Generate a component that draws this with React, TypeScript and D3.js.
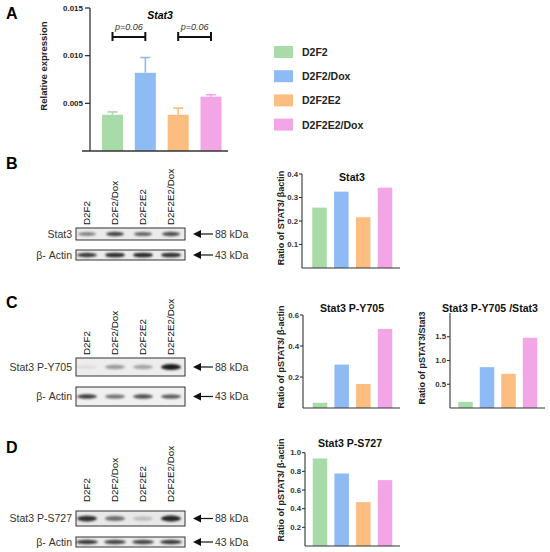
import React from 'react';
import * as d3 from 'd3';

const categories = ['D2F2', 'D2F2/Dox', 'D2F2E2', 'D2F2E2/Dox'];
const colors = ['#a8dba8', '#8fbbf4', '#fcbd80', '#f3a6e6'];

const exprMean = [0.0038, 0.0082, 0.0038, 0.0057];
const exprErr = [0.0003, 0.0016, 0.0007, 0.0002];
const exprTicks = [0.005, 0.010, 0.015];
const pBrackets = [
  { from: 0, to: 1, label: 'p=0.06' },
  { from: 2, to: 3, label: 'p=0.06' },
];

const stat3Ratio = [0.257, 0.325, 0.216, 0.342];
const stat3Ticks = [0.1, 0.2, 0.3, 0.4];
const y705Ratio = [0.034, 0.28, 0.155, 0.51];
const y705Ticks = [0.2, 0.4, 0.6];
const y705Stat3Ratio = [0.13, 0.86, 0.72, 1.48];
const y705Stat3Ticks = [0.5, 1.0, 1.5];
const s727Ratio = [0.938, 0.777, 0.47, 0.706];
const s727Ticks = [0.2, 0.4, 0.6, 0.8, 1.0];

// band intensities on the blots (0..1)
const blotStat3 = [0.5, 0.8, 0.65, 0.75];
const blotActinB = [0.85, 0.92, 0.95, 0.9];
const blotY705 = [0.08, 0.4, 0.35, 1.0];
const blotActinC = [0.85, 0.6, 0.75, 0.72];
const blotS727 = [0.9, 0.6, 0.22, 0.95];
const blotActinD = [0.85, 0.8, 0.8, 0.85];

const FONT = 'Liberation Sans, Arial, Helvetica, sans-serif';
const AXIS = '#333';

const lanes = d3.scalePoint<string>().domain(categories).range([87, 171]);

function PanelA() {
  const y = d3.scaleLinear().domain([0, 0.015]).range([151, 8]);
  const x = d3.scalePoint<string>().domain(categories).range([112.5, 211]);
  const bw = 21;
  return (
    <g fontFamily={FONT}>
      <text x={6} y={19} fontSize={16} fontWeight="bold">A</text>
      <text x={160} y={19} fontSize={10.5} fontWeight="bold" fontStyle="italic" textAnchor="middle">Stat3</text>
      {categories.map((c, i) => (
        <g key={c}>
          <rect x={x(c)! - bw / 2} y={y(exprMean[i])} width={bw} height={y(0) - y(exprMean[i])} fill={colors[i]} />
          <line x1={x(c)!} x2={x(c)!} y1={y(exprMean[i])} y2={y(exprMean[i] + exprErr[i])} stroke={colors[i]} strokeWidth={1.6} />
          <line x1={x(c)! - 5} x2={x(c)! + 5} y1={y(exprMean[i] + exprErr[i])} y2={y(exprMean[i] + exprErr[i])} stroke={colors[i]} strokeWidth={1.6} />
        </g>
      ))}
      <line x1={90} x2={90} y1={y(0.015)} y2={y(0)} stroke={AXIS} strokeWidth={1.3} />
      <line x1={82} x2={228} y1={y(0)} y2={y(0)} stroke={AXIS} strokeWidth={1.3} />
      {exprTicks.map(t => (
        <g key={t}>
          <line x1={85} x2={90} y1={y(t)} y2={y(t)} stroke={AXIS} strokeWidth={1.3} />
          <text x={83} y={y(t) + 2.8} fontSize={8} fontWeight="bold" textAnchor="end" fill="#222">{t.toFixed(3)}</text>
        </g>
      ))}
      <text transform="translate(47,66) rotate(-90)" fontSize={9.5} fontWeight="bold" textAnchor="middle" fill="#222">Relative expression</text>
      {pBrackets.map((b, i) => {
        const x1 = x(categories[b.from])!;
        const x2 = x(categories[b.to])!;
        return (
          <g key={i}>
            <line x1={x1} x2={x2} y1={37} y2={37} stroke="#111" strokeWidth={2} />
            <line x1={x1} x2={x1} y1={32} y2={41} stroke="#111" strokeWidth={2} />
            <line x1={x2} x2={x2} y1={32} y2={41} stroke="#111" strokeWidth={2} />
            <text x={(x1 + x2) / 2} y={30} fontSize={9} fontStyle="italic" textAnchor="middle" fill="#333">{b.label}</text>
          </g>
        );
      })}
      {categories.map((c, i) => (
        <g key={'lg' + c}>
          <rect x={274} y={46 + i * 24.2} width={19} height={12} fill={colors[i]} />
          <text x={302} y={56 + i * 24.2} fontSize={10.5} fontWeight="bold" fill="#222">{c}</text>
        </g>
      ))}
    </g>
  );
}

type SmallProps = {
  axisX: number; base: number; max: number; top: number; ticks: number[]; fmt: (v: number) => string;
  values: number[]; centers: [number, number]; xEnd: number; title: string; titleX: number; titleY: number;
  ylabel: string; ylabelX: number; ylabelY: number;
};

function SmallBars(p: SmallProps) {
  const y = d3.scaleLinear().domain([0, p.max]).range([p.base, p.top]);
  const x = d3.scalePoint<string>().domain(categories).range(p.centers);
  const bw = 14.5;
  return (
    <g fontFamily={FONT}>
      {categories.map((c, i) => (
        <rect key={c} x={x(c)! - bw / 2} y={y(p.values[i])} width={bw} height={p.base - y(p.values[i])} fill={colors[i]} />
      ))}
      <line x1={p.axisX} x2={p.axisX} y1={p.top} y2={p.base} stroke={AXIS} strokeWidth={1.1} />
      <line x1={p.axisX} x2={p.xEnd} y1={p.base} y2={p.base} stroke={AXIS} strokeWidth={1.1} />
      {p.ticks.map(t => (
        <g key={t}>
          <line x1={p.axisX - 3} x2={p.axisX} y1={y(t)} y2={y(t)} stroke={AXIS} strokeWidth={1.1} />
          <text x={p.axisX - 4} y={y(t) + 2.7} fontSize={7.8} fontWeight="bold" textAnchor="end" fill="#333">{p.fmt(t)}</text>
        </g>
      ))}
      <text x={p.titleX} y={p.titleY} fontSize={10.6} fontWeight="bold" textAnchor="middle" fill="#111">{p.title}</text>
      <text transform={`translate(${p.ylabelX},${p.ylabelY}) rotate(-90)`} fontSize={9} fontWeight="bold" textAnchor="middle" fill="#222">{p.ylabel}</text>
    </g>
  );
}

type BlotProps = { y: number; h: number; vals: number[]; bandH: number; bandW: number; bg: string; label: string; kda: string };

function Blot(p: BlotProps) {
  const cy = p.y + p.h / 2;
  return (
    <g fontFamily={FONT}>
      <rect x={76} y={p.y} width={109} height={p.h} fill={p.bg} stroke="#333" strokeWidth={1} />
      {categories.map((c, i) => (
        <ellipse key={c} cx={lanes(c)!} cy={cy} rx={p.bandW / 2} ry={p.bandH / 2 * (0.7 + 0.5 * p.vals[i])}
          fill="#1a1a1a" opacity={p.vals[i]} filter="url(#blur)" />
      ))}
      <text x={72} y={cy + 3.6} fontSize={10.5} textAnchor="end" fill="#333">{p.label}</text>
      <path d={`M193,${cy} L201,${cy - 4} L201,${cy + 4} Z`} fill="#111" />
      <line x1={199} x2={213} y1={cy} y2={cy} stroke="#111" strokeWidth={1.2} />
      <text x={215} y={cy + 3.6} fontSize={10.5} fill="#333">{p.kda}</text>
    </g>
  );
}

function LaneLabels({ bottom }: { bottom: number }) {
  return (
    <g fontFamily={FONT}>
      {categories.map(c => (
        <text key={c} transform={`translate(${lanes(c)! + 3.4},${bottom}) rotate(-90)`} fontSize={9.8} fill="#111">{c}</text>
      ))}
    </g>
  );
}

export default function App() {
  const f1 = (v: number) => v.toFixed(1);
  return (
    <svg width={550} height={552} style={{ position: 'absolute', left: 0, top: 0, background: '#fff' }}>
      <defs>
        <filter id="blur" x="-50%" y="-100%" width="200%" height="300%">
          <feGaussianBlur stdDeviation="1.2" />
        </filter>
      </defs>
      <rect width={550} height={552} fill="#fff" />
      <PanelA />

      {/* Panel B */}
      <text x={6} y={169} fontSize={16} fontWeight="bold" fontFamily={FONT}>B</text>
      <LaneLabels bottom={225} />
      <Blot y={228} h={12} vals={blotStat3} bandH={4} bandW={18} bg="#ebebeb" label="Stat3" kda="88 kDa" />
      <Blot y={250} h={10} vals={blotActinB} bandH={4} bandW={20} bg="#ebebeb" label="β- Actin" kda="43 kDa" />
      <SmallBars axisX={302} base={268} max={0.4} top={174} ticks={stat3Ticks} fmt={f1} values={stat3Ratio}
        centers={[319.5, 385]} xEnd={400} title="Stat3" titleX={352} titleY={181}
        ylabel="Ratio of STAT3/ βactin" ylabelX={284} ylabelY={218} />

      {/* Panel C */}
      <text x={6} y={308} fontSize={16} fontWeight="bold" fontFamily={FONT}>C</text>
      <LaneLabels bottom={355} />
      <Blot y={358} h={18} vals={blotY705} bandH={5} bandW={20} bg="#ededed" label="Stat3 P-Y705" kda="88 kDa" />
      <Blot y={387} h={19} vals={blotActinC} bandH={4} bandW={20} bg="#f0f0f0" label="β- Actin" kda="43 kDa" />
      <SmallBars axisX={303} base={408} max={0.6} top={315} ticks={y705Ticks} fmt={f1} values={y705Ratio}
        centers={[320, 385]} xEnd={400} title="Stat3 P-Y705" titleX={352} titleY={312}
        ylabel="Ratio of pSTAT3/ β-actin" ylabelX={284} ylabelY={357} />
      <SmallBars axisX={450} base={408} max={2.0} top={313} ticks={y705Stat3Ticks} fmt={f1} values={y705Stat3Ratio}
        centers={[465.5, 530]} xEnd={545} title="Stat3 P-Y705 /Stat3" titleX={490} titleY={312}
        ylabel="Ratio of pSTAT3/Stat3" ylabelX={425} ylabelY={358} />

      {/* Panel D */}
      <text x={6} y={453} fontSize={16} fontWeight="bold" fontFamily={FONT}>D</text>
      <LaneLabels bottom={502} />
      <Blot y={511} h={15} vals={blotS727} bandH={5} bandW={20} bg="#e8e8e8" label="Stat3 P-S727" kda="88 kDa" />
      <Blot y={537} h={10} vals={blotActinD} bandH={4} bandW={22} bg="#ebebeb" label="β- Actin" kda="43 kDa" />
      <SmallBars axisX={305} base={546} max={1.0} top={452.7} ticks={s727Ticks} fmt={f1} values={s727Ratio}
        centers={[320, 385]} xEnd={400} title="Stat3 P-S727" titleX={350} titleY={447}
        ylabel="Ratio of pSTAT3/ β-actin" ylabelX={284} ylabelY={490} />
    </svg>
  );
}
